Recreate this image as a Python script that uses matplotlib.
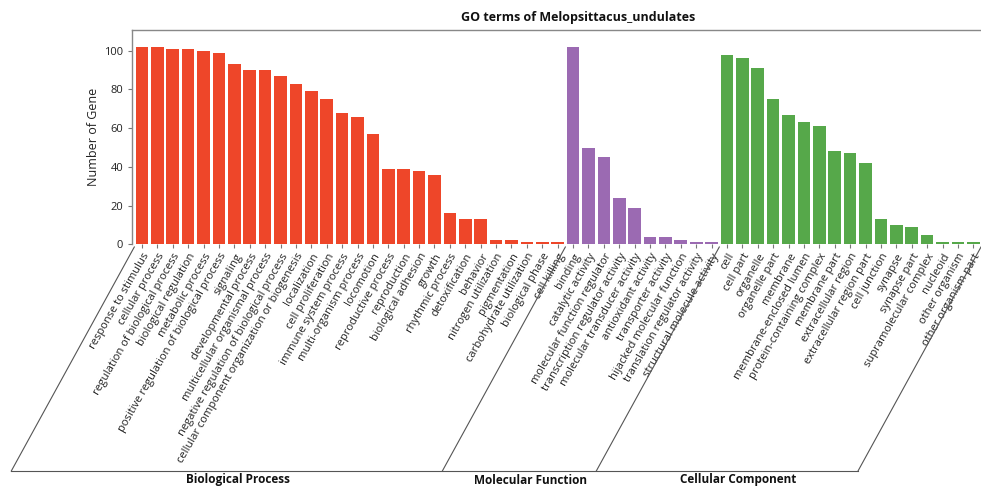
import numpy as np
import matplotlib
matplotlib.use('Agg')
import matplotlib.pyplot as plt
from matplotlib.lines import Line2D

plt.rcParams['font.family'] = ['Open Sans', 'DejaVu Sans']

# GO terms and gene counts
bp_terms = ['response to stimulus', 'cellular process', 'regulation of biological process',
            'biological regulation', 'metabolic process',
            'positive regulation of biological process', 'signaling',
            'developmental process', 'multicellular organismal process',
            'negative regulation of biological process',
            'cellular component organization or biogenesis', 'localization',
            'cell proliferation', 'immune system process', 'multi-organism process',
            'locomotion', 'reproductive process', 'reproduction', 'biological adhesion',
            'growth', 'rhythmic process', 'detoxification', 'behavior',
            'nitrogen utilization', 'pigmentation', 'carbohydrate utilization',
            'biological phase', 'cell killing']
bp_counts = [102, 102, 101, 101, 100, 99, 93, 90, 90, 87, 83, 79, 75, 68, 66,
             57, 39, 39, 38, 36, 16, 13, 13, 2, 2, 1, 1, 1]

mf_terms = ['binding', 'catalytic activity', 'molecular function regulator',
            'transcription regulator activity', 'molecular transducer activity',
            'antioxidant activity', 'transporter activity',
            'hijacked molecular function', 'translation regulator activity',
            'structural molecule activity']
mf_counts = [102, 50, 45, 24, 19, 4, 4, 2, 1, 1]

cc_terms = ['cell', 'cell part', 'organelle', 'organelle part', 'membrane',
            'membrane-enclosed lumen', 'protein-containing complex', 'membrane part',
            'extracellular region', 'extracellular region part', 'cell junction',
            'synapse', 'synapse part', 'supramolecular complex', 'nucleoid',
            'other organism', 'other organism part']
cc_counts = [98, 96, 91, 75, 67, 63, 61, 48, 47, 42, 13, 10, 9, 5, 1, 1, 1]

groups = ['Biological Process', 'Molecular Function', 'Cellular Component']
colors = ['#ee4629', '#9b6ab2', '#56a84a']

W, H = 981, 488
fig = plt.figure(figsize=(W / 100, H / 100), dpi=100)
ax = fig.add_axes([132.3 / W, 1 - 244.3 / H, (W - 132.3) / W, (244.3 - 30) / H])

terms = bp_terms + mf_terms + cc_terms
counts = bp_counts + mf_counts + cc_counts
sizes = [len(bp_terms), len(mf_terms), len(cc_terms)]
bar_colors = []
for c, n in zip(colors, sizes):
    bar_colors += [c] * n
x = np.arange(len(terms))

ax.bar(x, counts, width=0.82, color=bar_colors, edgecolor='none')
ax.set_xlim(-0.63, 54.5)
ax.set_ylim(0, 110.7)
ax.set_yticks(np.arange(0, 101, 20))
ax.set_xticks(x)
ax.set_xticklabels(terms, rotation=60, ha='right', rotation_mode='anchor',
                   fontsize=8, color='#222222')
ax.tick_params(axis='y', labelsize=8, colors='#222222', length=3, color='#777777')
ax.tick_params(axis='x', length=3, color='#777777', pad=2)
ax.set_ylabel('Number of Gene', fontsize=9, color='#222222', labelpad=3)

for s in ['right', 'bottom']:
    ax.spines[s].set_visible(False)
for s in ['left', 'top']:
    ax.spines[s].set_color('#888888')
    ax.spines[s].set_linewidth(1.0)

fig.text(578 / W, 1 - 17 / H, 'GO terms of Melopsittacus_undulates',
         ha='center', va='center', fontsize=9, fontweight='bold', color='#111111')

# slanted group brackets below the tick labels
bounds = [-0.5, sizes[0] - 0.5, sizes[0] + sizes[1] - 0.5, len(terms) - 0.5]
fig.canvas.draw()
top_y, bot_y, shift = 247, 471, 123
bottoms = []
for b in bounds:
    px = ax.transData.transform((b, 0))[0]
    bx = px - shift
    bottoms.append(bx)
    fig.add_artist(Line2D([px / W, bx / W], [1 - top_y / H, 1 - bot_y / H],
                          transform=fig.transFigure, color='#555555', lw=0.8))
fig.add_artist(Line2D([bottoms[0] / W, bottoms[-1] / W], [1 - bot_y / H, 1 - bot_y / H],
                      transform=fig.transFigure, color='#555555', lw=0.8))
for i, g in enumerate(groups):
    cx = (bottoms[i] + bottoms[i + 1]) / 2 + 11
    fig.text(cx / W, 1 - 480 / H, g, ha='center', va='center', fontsize=8.5,
             fontweight='bold', color='#111111')

fig.savefig('out.png', dpi=100)
